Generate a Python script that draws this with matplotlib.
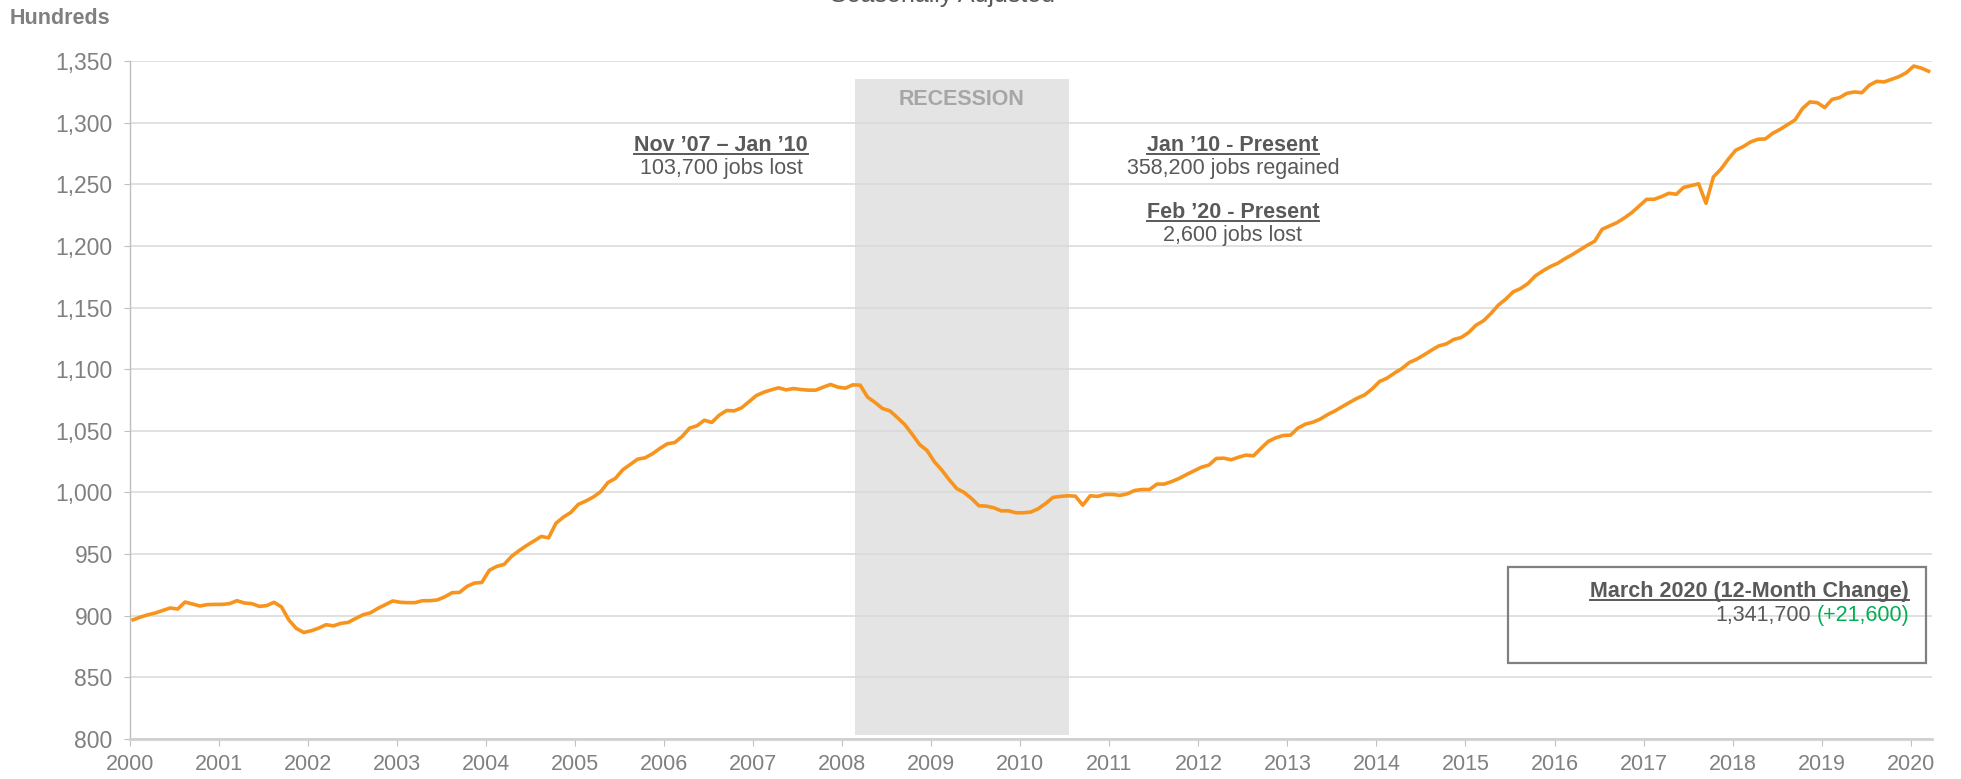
import matplotlib
matplotlib.use('Agg')
import matplotlib.pyplot as plt
from matplotlib.lines import Line2D
from matplotlib.patches import Rectangle
from matplotlib.ticker import FuncFormatter, MultipleLocator

# Monthly nonfarm employment, hundreds, Jan 2000 - Mar 2020 (seasonally adjusted)
start_year = 2000
employment = [
    896.7, 898.9, 900.8, 902.2, 904.3, 906.3, 905.4, 911.1, 909.5, 907.9, 909.0, 909.2,  # 2000
    909.2, 909.8, 912.2, 910.3, 909.8, 907.6, 908.2, 910.9, 907.1, 896.5, 889.7, 886.4,  # 2001
    887.8, 889.9, 892.7, 891.8, 893.8, 894.6, 897.8, 900.8, 902.4, 906.0, 909.0, 912.0,  # 2002
    910.9, 910.6, 910.6, 912.2, 912.2, 912.8, 915.3, 918.7, 918.9, 923.8, 926.5, 927.0,  # 2003
    936.8, 940.0, 941.6, 948.1, 952.7, 956.8, 960.5, 964.3, 963.2, 975.1, 980.0, 983.8,  # 2004
    990.3, 993.0, 996.2, 1000.5, 1008.1, 1011.4, 1018.4, 1022.7, 1027.0, 1028.1, 1031.4, 1035.7,  # 2005
    1039.5, 1040.5, 1045.4, 1052.2, 1054.1, 1058.6, 1056.8, 1062.7, 1066.5, 1066.2, 1068.6, 1073.6,  # 2006
    1078.6, 1081.3, 1083.2, 1084.9, 1083.2, 1084.3, 1083.5, 1083.0, 1083.0, 1085.4, 1087.6, 1085.4,  # 2007
    1084.6, 1087.3, 1087.0, 1077.3, 1073.0, 1068.1, 1066.2, 1060.8, 1055.1, 1047.3, 1038.9, 1034.1,  # 2008
    1024.9, 1018.1, 1010.3, 1003.2, 1000.0, 995.1, 989.2, 988.9, 987.6, 985.1, 985.1, 983.5,  # 2009
    983.5, 984.1, 986.8, 991.1, 996.0, 996.8, 997.3, 997.0, 989.7, 997.3, 996.8, 998.4,  # 2010
    998.4, 997.6, 998.9, 1001.6, 1002.4, 1002.4, 1006.8, 1006.8, 1008.9, 1011.4, 1014.6, 1017.6,  # 2011
    1020.5, 1022.2, 1027.6, 1027.8, 1026.5, 1028.6, 1030.3, 1029.7, 1035.7, 1041.4, 1044.3, 1046.2,  # 2012
    1046.5, 1052.2, 1055.4, 1057.0, 1059.5, 1063.2, 1066.2, 1069.7, 1073.2, 1076.5, 1079.2, 1084.0,  # 2013
    1090.0, 1092.7, 1096.8, 1100.5, 1105.4, 1108.1, 1111.6, 1115.4, 1118.9, 1120.5, 1124.1, 1125.7,  # 2014
    1129.7, 1135.7, 1139.2, 1145.1, 1151.9, 1156.8, 1162.7, 1165.4, 1169.5, 1175.7, 1179.7, 1183.2,  # 2015
    1185.9, 1189.7, 1193.0, 1196.8, 1200.5, 1203.8, 1213.5, 1216.2, 1218.9, 1222.7, 1227.0, 1232.4,  # 2016
    1237.8, 1237.8, 1240.0, 1242.7, 1241.9, 1247.5, 1248.9, 1250.4, 1234.6, 1256.0, 1262.2, 1270.3,  # 2017
    1277.6, 1280.5, 1284.3, 1286.5, 1286.8, 1291.4, 1294.6, 1298.4, 1302.2, 1311.4, 1316.8, 1316.2,  # 2018
    1312.2, 1318.9, 1320.3, 1323.8, 1324.9, 1324.3, 1330.3, 1333.5, 1333.0, 1335.1, 1337.3, 1340.5,  # 2019
    1345.9, 1344.3, 1341.7,  # 2020
]
recession_span = (2008.14, 2010.55)
year_ticks = list(range(2000, 2021))

GRAY_TXT = "#595959"
TICK_TXT = "#808080"
ORANGE = "#F7941E"
GREEN = "#00B050"

plt.rcParams['font.family'] = ['Liberation Sans', 'DejaVu Sans']
FS = 15.5

W, H = 1961, 779
fig = plt.figure(figsize=(W / 100, H / 100), dpi=100)
ax = fig.add_axes([130 / W, 40 / H, 1802 / W, 678 / H])

# month positions as fractional years (points sit slightly right of the tick)
x = [start_year + i / 12 + 0.035 for i in range(len(employment))]

ax.axvspan(*recession_span, ymin=0.0064, ymax=0.9735, color="#E4E4E4", lw=0, zorder=0.2)
ax.plot(x, employment, color=ORANGE, lw=2.6, zorder=3, solid_joinstyle='round')

ax.set_xlim(2000, 2020.24)
ax.set_ylim(800, 1350)
ax.set_xticks(year_ticks)
ax.set_xticklabels([str(y) for y in year_ticks])
ax.yaxis.set_major_locator(MultipleLocator(50))
ax.yaxis.set_major_formatter(FuncFormatter(lambda v, p: f"{v:,.0f}"))

ax.set_axisbelow(True)
ax.grid(axis='y', color="#D9D9D9", lw=1.1)
ax.grid(axis='x', visible=False)
for s in ['top', 'right']:
    ax.spines[s].set_visible(False)
ax.spines['left'].set_color("#BFBFBF")
ax.spines['left'].set_linewidth(1.0)
ax.spines['bottom'].set_color("#D0D0D0")
ax.spines['bottom'].set_linewidth(2.0)
ax.tick_params(axis='both', colors="#BFBFBF", labelcolor=TICK_TXT, labelsize=FS, direction='out')
ax.tick_params(axis='x', length=5, pad=6)
ax.tick_params(axis='y', length=4.5, pad=8, labelsize=16.5)

# top labels
fig.text(10 / W, 1 - 19 / H, "Hundreds", fontsize=FS, fontweight='bold', color=TICK_TXT,
         ha='left', va='center')
fig.text(942 / W, 1 - 2 / H, "Seasonally Adjusted", fontsize=18, color=GRAY_TXT,
         ha='center', va='baseline')

rec_mid = sum(recession_span) / 2
ax.text(rec_mid, 0.943, "RECESSION", transform=ax.get_xaxis_transform(), fontsize=FS,
        fontweight='bold', color="#A6A6A6", ha='center', va='center')

headers = []
headers.append(ax.text(0.328, 0.867, "Nov \u201907 \u2013 Jan \u201910", transform=ax.transAxes,
                       fontsize=FS, fontweight='bold', color=GRAY_TXT, ha='center', va='baseline'))
ax.text(0.328, 0.842, "103,700 jobs lost", transform=ax.transAxes, fontsize=FS,
        color=GRAY_TXT, ha='center', va='center')
headers.append(ax.text(0.612, 0.867, "Jan \u201910 - Present", transform=ax.transAxes,
                       fontsize=FS, fontweight='bold', color=GRAY_TXT, ha='center', va='baseline'))
ax.text(0.612, 0.842, "358,200 jobs regained", transform=ax.transAxes, fontsize=FS,
        color=GRAY_TXT, ha='center', va='center')
headers.append(ax.text(0.612, 0.768, "Feb \u201920 - Present", transform=ax.transAxes,
                       fontsize=FS, fontweight='bold', color=GRAY_TXT, ha='center', va='baseline'))
ax.text(0.612, 0.743, "2,600 jobs lost", transform=ax.transAxes, fontsize=FS,
        color=GRAY_TXT, ha='center', va='center')

# 12-month change box
box = Rectangle((1508 / W, 1 - 663 / H), (1926 - 1508) / W, (663 - 567) / H,
                transform=fig.transFigure, fill=False, edgecolor="#808080", lw=1.6, zorder=5)
fig.add_artist(box)
headers.append(fig.text(1909 / W, 1 - 597 / H, "March 2020 (12-Month Change)", fontsize=FS,
                        fontweight='bold', color=GRAY_TXT, ha='right', va='baseline'))
chg = fig.text(1909 / W, 1 - 615 / H, "(+21,600)", fontsize=FS, color=GREEN,
               ha='right', va='center')

fig.canvas.draw()
renderer = fig.canvas.get_renderer()
bb = chg.get_window_extent(renderer)
fig.text((bb.x0 - 5) / W, 1 - 615 / H, "1,341,700", fontsize=FS, color=GRAY_TXT,
         ha='right', va='center')

# underline the bold headers
for t in headers:
    tb = t.get_window_extent(renderer)
    yb = t.get_transform().transform(t.get_position())[1] - 3
    fig.add_artist(Line2D([tb.x0 / W, tb.x1 / W], [yb / H, yb / H], transform=fig.transFigure,
                          color=GRAY_TXT, lw=1.4))

fig.savefig("out.png", dpi=100)
